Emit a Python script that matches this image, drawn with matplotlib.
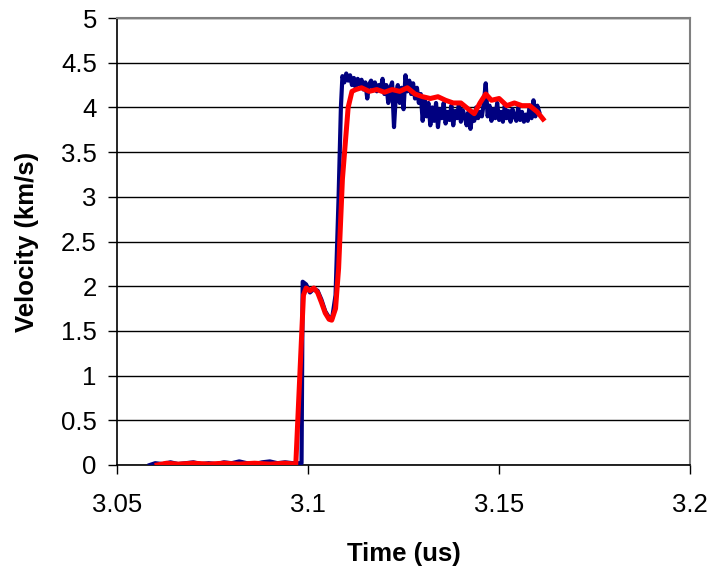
import matplotlib.pyplot as plt

plt.rcParams['font.family'] = ['Liberation Sans', 'DejaVu Sans']

# blue trace (raw, noisy)
blue_t = [3.0586, 3.060, 3.062, 3.064, 3.066, 3.068, 3.070, 3.072, 3.074, 3.076,
          3.078, 3.080, 3.082, 3.084, 3.086, 3.088, 3.090, 3.092, 3.094, 3.096,
          3.0983, 3.0986, 3.0995, 3.1005, 3.1015, 3.1025, 3.1035, 3.1045, 3.1055, 3.1063,
          3.1072, 3.108, 3.1086,
          3.1090, 3.1095, 3.1100, 3.1105, 3.1110, 3.1115, 3.1120, 3.1125, 3.1130, 3.1135,
          3.1140, 3.1145, 3.1150, 3.1155, 3.1160, 3.1165, 3.1170, 3.1175, 3.1180, 3.1185,
          3.1190, 3.1195, 3.1200, 3.1205, 3.1210, 3.1215, 3.1220, 3.1225, 3.1230, 3.1235,
          3.1240, 3.1245, 3.1250, 3.1255, 3.1260, 3.1265, 3.1270, 3.1275, 3.1280, 3.1285,
          3.1290, 3.1295, 3.1300, 3.1305, 3.1310, 3.1315, 3.1320, 3.1325, 3.1330, 3.1335,
          3.1340, 3.1345, 3.1350, 3.1355, 3.1360, 3.1365, 3.1370, 3.1375, 3.1380, 3.1385,
          3.1390, 3.1395, 3.1400, 3.1405, 3.1410, 3.1415, 3.1420, 3.1425, 3.1430, 3.1435,
          3.1440, 3.1445, 3.1450, 3.1455, 3.1460, 3.1465, 3.1470, 3.1475, 3.1480, 3.1485,
          3.1490, 3.1495, 3.1500, 3.1505, 3.1510, 3.1515, 3.1520, 3.1525, 3.1530, 3.1535,
          3.1540, 3.1545, 3.1550, 3.1555, 3.1560, 3.1565, 3.1570, 3.1575, 3.1580, 3.1585,
          3.1590, 3.1595, 3.1600, 3.1605]
blue_v = [0.0, 0.02, 0.01, 0.03, 0.01, 0.02, 0.03, 0.01, 0.02, 0.01,
          0.03, 0.02, 0.04, 0.02, 0.01, 0.03, 0.04, 0.02, 0.03, 0.02,
          0.02, 2.05, 2.02, 1.93, 1.97, 1.95, 1.85, 1.72, 1.65, 1.64,
          1.9, 3.0, 4.0,
          4.35, 4.28, 4.38, 4.30, 4.36, 4.25, 4.33, 4.22, 4.32, 4.26,
          4.31, 4.20, 4.28, 4.10, 4.26, 4.30, 4.22, 4.28, 4.18, 4.25,
          4.20, 4.32, 4.15, 4.25, 4.05, 4.22, 4.28, 3.78, 4.15, 4.25,
          4.05, 4.22, 3.98, 4.36, 4.18, 4.30, 4.15, 4.27, 4.10, 4.22,
          4.05, 4.15, 3.85, 4.10, 3.90, 4.05, 3.80, 4.00, 3.85, 4.05,
          3.78, 3.98, 3.88, 4.05, 3.82, 3.95, 3.86, 4.02, 3.80, 3.96,
          3.88, 4.05, 3.84, 3.97, 3.90, 3.80, 3.95, 3.76, 3.92, 3.85,
          4.00, 3.88, 3.95, 3.90, 4.05, 4.27, 3.90, 4.02, 3.85, 3.98,
          3.88, 4.05, 3.86, 3.95, 3.84, 4.02, 3.88, 3.96, 3.84, 3.98,
          3.90, 3.85, 4.00, 3.86, 3.95, 3.84, 3.92, 3.85, 4.02, 3.88,
          4.08, 3.90, 4.02, 3.95]

# red trace (smoothed)
red_t = [3.0605, 3.063, 3.066, 3.070, 3.074, 3.078, 3.082, 3.086, 3.090, 3.094,
         3.0968, 3.0988, 3.0995, 3.1005, 3.1015, 3.1025, 3.1035, 3.1045, 3.1055, 3.1062,
         3.1072, 3.108, 3.109, 3.1105, 3.1115, 3.1125, 3.114, 3.116, 3.118, 3.120,
         3.122, 3.124, 3.126, 3.128, 3.130, 3.132, 3.134, 3.136, 3.138, 3.140,
         3.142, 3.1435, 3.145, 3.1465, 3.148, 3.150, 3.152, 3.154, 3.156, 3.158,
         3.160, 3.1615]
red_v = [0.0, 0.02, 0.01, 0.02, 0.01, 0.02, 0.01, 0.02, 0.01, 0.02,
         0.01, 1.9, 1.98, 1.95, 1.98, 1.93, 1.82, 1.7, 1.63, 1.62,
         1.75, 2.2, 3.2, 4.0, 4.18, 4.2, 4.22, 4.18, 4.2, 4.17,
         4.2, 4.18, 4.22, 4.15, 4.12, 4.1, 4.12, 4.08, 4.05, 4.05,
         3.98, 3.93, 4.05, 4.15, 4.08, 4.1, 4.02, 4.05, 4.02, 4.02,
         3.95, 3.87]

fig = plt.figure(figsize=(7.12, 5.73), dpi=100)
ax = fig.add_axes([0.1643, 0.1885, 0.805, 0.78])

ax.plot(blue_t, blue_v, color='#000080', lw=3.0, zorder=3)
ax.plot(red_t, red_v, color='#ff0000', lw=3.6, zorder=4)

ax.set_xlim(3.05, 3.2)
ax.set_ylim(0, 5)
ax.set_xticks([3.05, 3.1, 3.15, 3.2])
ax.set_xticklabels(['3.05', '3.1', '3.15', '3.2'])
ax.set_yticks([0, 0.5, 1, 1.5, 2, 2.5, 3, 3.5, 4, 4.5, 5])
ax.set_yticklabels(['0', '0.5', '1', '1.5', '2', '2.5', '3', '3.5', '4', '4.5', '5'])
ax.yaxis.grid(True, color='black', lw=1)
ax.set_axisbelow(True)

for s in ['top', 'right']:
    ax.spines[s].set_color('#808080')
    ax.spines[s].set_linewidth(1.5)
for s in ['left', 'bottom']:
    ax.spines[s].set_color('black')
    ax.spines[s].set_linewidth(1.2)

ax.tick_params(labelsize=18.5, length=6.5, width=1, direction='out')
ax.tick_params(axis='x', pad=14)
ax.tick_params(axis='y', pad=8)
ax.set_xlabel('Time (us)', fontsize=18.5, fontweight='bold', labelpad=18)
ax.set_ylabel('Velocity (km/s)', fontsize=18.5, fontweight='bold', labelpad=16)

fig.savefig('out.png', dpi=100)
